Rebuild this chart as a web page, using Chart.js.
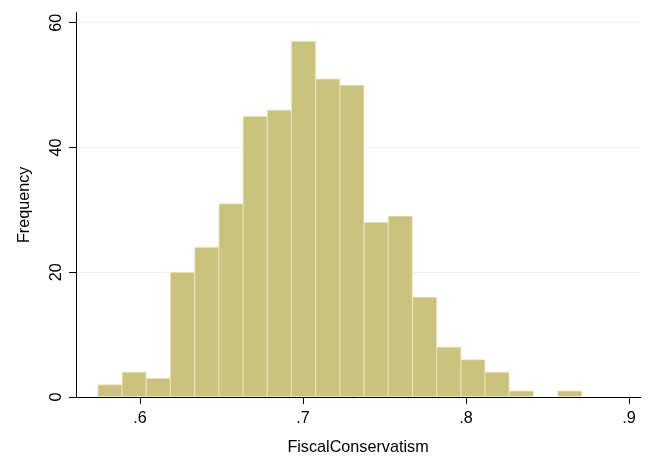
<!DOCTYPE html>
<html>
<head>
<meta charset="utf-8">
<script src="https://cdn.jsdelivr.net/npm/chart.js@4/dist/chart.umd.min.js"></script>
<style>
    html, body { margin: 0; padding: 0; background: #fff; }
    #wrap { width: 649px; height: 457px; }
</style>
</head>
<body>
<div id="wrap"><canvas id="histChart" width="649" height="457"></canvas></div>
<script>
        // Bin edges (FiscalConservatism) and counts
        const binEdges = [0.57405, 0.58890, 0.60375, 0.61860, 0.63345, 0.64830, 0.66315,
                          0.67800, 0.69285, 0.70770, 0.72255, 0.73740, 0.75225, 0.76710,
                          0.78195, 0.79680, 0.81165, 0.82650, 0.84135, 0.85620, 0.87105];
        const frequency = [2, 4, 3, 20, 24, 31, 45, 46, 57, 51, 50, 28, 29, 16, 8, 6, 4, 1, 0, 1];
        const xTicks = [0.6, 0.7, 0.8, 0.9];
        const yTicks = [0, 20, 40, 60];

        // Bars sit on bin midpoints of a linear axis
        const points = frequency.map((f, i) => ({ x: (binEdges[i] + binEdges[i + 1]) / 2, y: f }));

        const textFont = { family: 'Liberation Sans, Arial, sans-serif', size: 16.2, lineHeight: 1.2 };

        const ctx = document.getElementById('histChart').getContext('2d');
        const histChart = new Chart(ctx, {
            type: 'bar',
            data: {
                datasets: [{
                    label: 'Frequency',
                    data: points,
                    backgroundColor: 'rgb(202, 194, 126)',
                    borderColor: 'rgb(228, 223, 172)',
                    borderWidth: 1,
                    barPercentage: 1,
                    categoryPercentage: 1
                }]
            },
            options: {
                responsive: false,
                animation: false,
                layout: { padding: { top: 9, right: 9, left: 0, bottom: 0 } },
                plugins: {
                    legend: { display: false },
                    tooltip: { enabled: false }
                },
                scales: {
                    x: {
                        type: 'linear',
                        offset: false,
                        min: 0.5607,
                        max: 0.9067,
                        afterBuildTicks: (scale) => { scale.ticks = xTicks.map(v => ({ value: v })); },
                        afterFit: (scale) => { scale.height = 60; },
                        ticks: {
                            color: '#000',
                            font: textFont,
                            padding: 5,
                            maxRotation: 0,
                            callback: (v) => String(v).replace(/^0/, '')
                        },
                        grid: { drawOnChartArea: false, tickLength: 7, tickColor: '#000', offset: false },
                        border: { color: '#000', width: 1 },
                        title: {
                            display: true,
                            text: 'FiscalConservatism',
                            color: '#000',
                            font: textFont,
                            padding: { top: 0, bottom: 0 }
                        }
                    },
                    y: {
                        min: 0,
                        max: 61.6,
                        afterBuildTicks: (scale) => { scale.ticks = yTicks.map(v => ({ value: v })); },
                        afterFit: (scale) => { scale.width = 76; },
                        ticks: {
                            color: '#000',
                            font: textFont,
                            padding: 3,
                            minRotation: 90,
                            maxRotation: 90,
                            crossAlign: 'center'
                        },
                        grid: { color: '#eaf2f3', lineWidth: 1, tickLength: 7, tickColor: '#000' },
                        border: { color: '#000', width: 1 },
                        title: {
                            display: true,
                            text: 'Frequency',
                            color: '#000',
                            font: textFont,
                            padding: { top: 15, bottom: 0 }
                        }
                    }
                }
            }
        });
</script>
</body>
</html>
